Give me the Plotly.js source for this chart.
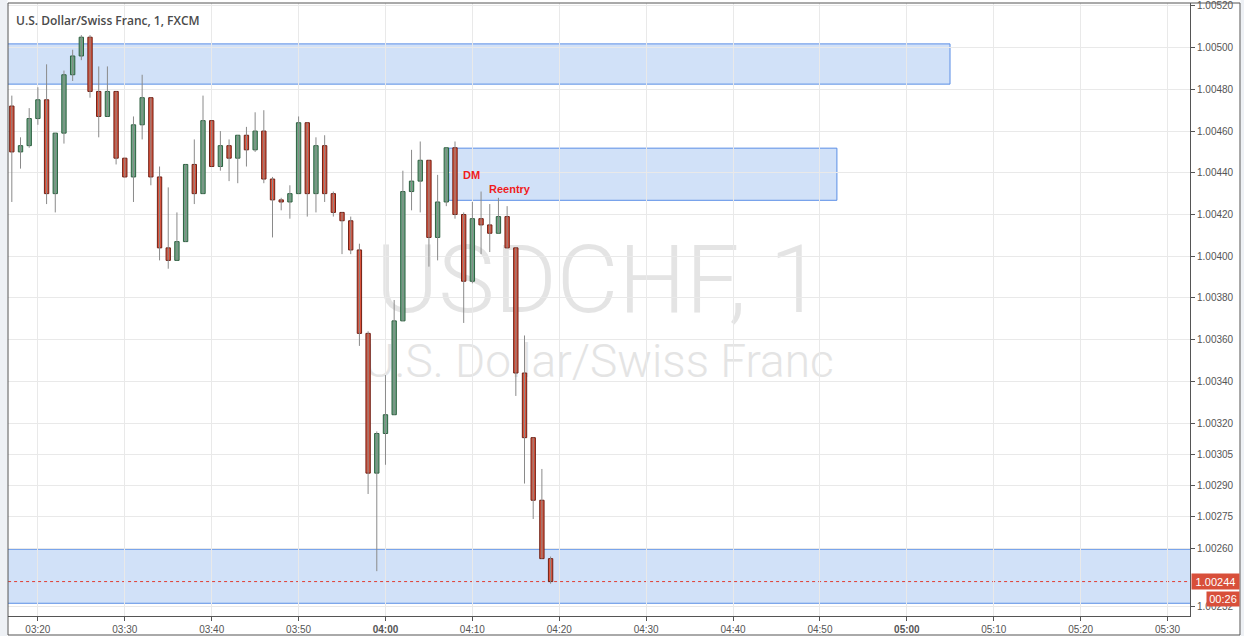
<!DOCTYPE html>
<html>
<head>
<meta charset="utf-8">
<script src="https://cdn.plot.ly/plotly-3.0.1.min.js"></script>
<style>html,body{margin:0;padding:0;background:#fff;}#chart{width:1244px;height:636px;}</style>
</head>
<body>
<div id="chart"></div>
<script>
// ---- data ----
var times = ['2017-01-01 03:17','2017-01-01 03:18','2017-01-01 03:19','2017-01-01 03:20','2017-01-01 03:21','2017-01-01 03:22','2017-01-01 03:23','2017-01-01 03:24','2017-01-01 03:25','2017-01-01 03:26',
'2017-01-01 03:27','2017-01-01 03:28','2017-01-01 03:29','2017-01-01 03:30','2017-01-01 03:31','2017-01-01 03:32','2017-01-01 03:33','2017-01-01 03:34','2017-01-01 03:35','2017-01-01 03:36',
'2017-01-01 03:37','2017-01-01 03:38','2017-01-01 03:39','2017-01-01 03:40','2017-01-01 03:41','2017-01-01 03:42','2017-01-01 03:43','2017-01-01 03:44','2017-01-01 03:45','2017-01-01 03:46',
'2017-01-01 03:47','2017-01-01 03:48','2017-01-01 03:49','2017-01-01 03:50','2017-01-01 03:51','2017-01-01 03:52','2017-01-01 03:53','2017-01-01 03:54','2017-01-01 03:55','2017-01-01 03:56',
'2017-01-01 03:57','2017-01-01 03:58','2017-01-01 03:59','2017-01-01 04:00','2017-01-01 04:01','2017-01-01 04:02','2017-01-01 04:03','2017-01-01 04:04','2017-01-01 04:05','2017-01-01 04:06',
'2017-01-01 04:07','2017-01-01 04:08','2017-01-01 04:09','2017-01-01 04:10','2017-01-01 04:11','2017-01-01 04:12','2017-01-01 04:13','2017-01-01 04:14','2017-01-01 04:15','2017-01-01 04:16',
'2017-01-01 04:17','2017-01-01 04:18','2017-01-01 04:19'];
var open  = [1.00472,1.00450,1.00453,1.00466,1.00475,1.00430,1.00459,1.00487,1.00496,1.00505,
1.00479,1.00467,1.00479,1.00447,1.00438,1.00463,1.00476,1.00438,1.00404,1.00398,
1.00407,1.00444,1.00430,1.00465,1.00443,1.00453,1.00447,1.00458,1.00451,1.00460,
1.00437,1.00427,1.00426,1.00430,1.00464,1.00430,1.00453,1.00430,1.00421,1.00417,
1.00403,1.00363,1.00296,1.00315,1.00324,1.00369,1.00431,1.00436,1.00446,1.00409,
1.00426,1.00452,1.00420,1.00388,1.00418,1.00415,1.00411,1.00419,1.00404,1.00344,
1.00313,1.00283,1.00255];
var high  = [1.00477,1.00457,1.00471,1.00481,1.00492,1.00459,1.00489,1.00499,1.00506,1.00506,
1.00491,1.00491,1.00479,1.00447,1.00467,1.00487,1.00476,1.00443,1.00433,1.00421,
1.00444,1.00456,1.00477,1.00465,1.00460,1.00456,1.00458,1.00462,1.00469,1.00470,
1.00438,1.00428,1.00434,1.00467,1.00464,1.00457,1.00458,1.00431,1.00421,1.00419,
1.00406,1.00364,1.00316,1.00343,1.00379,1.00441,1.00451,1.00455,1.00446,1.00439,
1.00452,1.00455,1.00421,1.00426,1.00431,1.00425,1.00428,1.00424,1.00404,1.00362,
1.00313,1.00298,1.00256];
var low   = [1.00426,1.00442,1.00452,1.00463,1.00425,1.00421,1.00454,1.00484,1.00494,1.00476,
1.00457,1.00467,1.00444,1.00438,1.00426,1.00456,1.00434,1.00398,1.00394,1.00398,
1.00407,1.00425,1.00430,1.00443,1.00441,1.00436,1.00435,1.00443,1.00450,1.00435,
1.00409,1.00422,1.00418,1.00430,1.00419,1.00421,1.00426,1.00419,1.00401,1.00401,
1.00357,1.00286,1.00249,1.00300,1.00324,1.00369,1.00422,1.00421,1.00395,1.00398,
1.00424,1.00418,1.00368,1.00387,1.00401,1.00402,1.00411,1.00404,1.00333,1.00291,
1.00274,1.00255,1.00243];
var close = [1.00450,1.00453,1.00466,1.00475,1.00430,1.00459,1.00487,1.00496,1.00505,1.00479,
1.00467,1.00479,1.00447,1.00438,1.00463,1.00476,1.00438,1.00404,1.00398,1.00407,
1.00444,1.00430,1.00465,1.00443,1.00453,1.00447,1.00458,1.00451,1.00460,1.00437,
1.00427,1.00426,1.00430,1.00464,1.00430,1.00453,1.00430,1.00421,1.00417,1.00403,
1.00363,1.00296,1.00315,1.00324,1.00369,1.00431,1.00436,1.00446,1.00409,1.00426,
1.00452,1.00420,1.00388,1.00418,1.00415,1.00411,1.00419,1.00404,1.00344,1.00313,
1.00283,1.00255,1.00244];

var xTickVals = ['2017-01-01 03:20','2017-01-01 03:30','2017-01-01 03:40','2017-01-01 03:50','2017-01-01 04:00','2017-01-01 04:10','2017-01-01 04:20',
'2017-01-01 04:30','2017-01-01 04:40','2017-01-01 04:50','2017-01-01 05:00','2017-01-01 05:10','2017-01-01 05:20','2017-01-01 05:30'];
var xTickText = ['03:20','03:30','03:40','03:50','<b>04:00</b>','04:10','04:20','04:30','04:40','04:50','<b>05:00</b>','05:10','05:20','05:30'];
var yTickVals = [1.00520,1.00500,1.00480,1.00460,1.00440,1.00420,1.00400,1.00380,1.00360,1.00340,1.00320,1.00305,1.00290,1.00275,1.00260,1.00232];
var yTickText = ['1.00520','1.00500','1.00480','1.00460','1.00440','1.00420','1.00400','1.00380','1.00360','1.00340','1.00320','1.00305','1.00290','1.00275','1.00260','1.00232'];

// zones [start, end, low, high]
var zoneTop    = ['2017-01-01 03:00','2017-01-01 05:04:58',1.004825,1.005018];
var zoneMid    = ['2017-01-01 04:07:18','2017-01-01 04:51:57',1.004268,1.004518];
var zoneBottom = ['2017-01-01 03:00','2017-01-01 06:00',1.002336,1.002595];
var lastPrice = 1.00244;
var lastPriceText = '1.00244';
var timerText = '00:26';
var titleText = 'U.S. Dollar/Swiss Franc, 1, FXCM';
var watermark1 = 'USDCHF, 1';
var watermark2 = 'U.S. Dollar/Swiss Franc';

// ---- build traces ----
var UP_FILL = '#6ba583', UP_LINE = '#2c5f3f', DN_FILL = '#da523b', DN_LINE = '#6f1f14';
var wx = [], wy = [];
var base = [], height = [], fill = [], outline = [];
for (var i = 0; i < times.length; i++) {
  wx.push(times[i], times[i], null);
  wy.push(low[i], high[i], null);
  var lo = Math.min(open[i], close[i]), hi = Math.max(open[i], close[i]);
  base.push(lo);
  height.push(Math.max(hi - lo, 0.000004));
  var up = close[i] >= open[i];
  fill.push(up ? UP_FILL : DN_FILL);
  outline.push(up ? UP_LINE : DN_LINE);
}
var wicks = {type:'scatter', mode:'lines', x:wx, y:wy, line:{color:'#8a8a8a', width:1}, hoverinfo:'skip', showlegend:false};
var bodies = {type:'bar', x:times, y:height, base:base, width:30000,
  marker:{color:fill, line:{color:outline, width:1}}, showlegend:false,
  customdata: open.map(function(o,i){return [o,high[i],low[i],close[i]];}),
  hovertemplate:'O %{customdata[0]}<br>H %{customdata[1]}<br>L %{customdata[2]}<br>C %{customdata[3]}<extra></extra>'};

var W = 1182, H = 613;
var ZFILL = '#d1e1f8', ZLINE = '#5a8ee6';
function zone(z){
  return {type:'rect', xref:'x', yref:'y', x0:z[0], x1:z[1], y0:z[2], y1:z[3],
    fillcolor:ZFILL, line:{color:ZLINE, width:1}, layer:'below'};
}
var shapes = [
  // watermark
  {type:'rect', xref:'paper', yref:'paper', x0:0.25, x1:0.75, y0:0.505, y1:0.617, line:{width:0}, fillcolor:'rgba(0,0,0,0)', layer:'below',
   label:{text:watermark1, textposition:'middle center', font:{family:'Roboto', size:95, color:'#e4e4e4', weight:300}}},
  {type:'rect', xref:'paper', yref:'paper', x0:0.25, x1:0.75, y0:0.39, y1:0.452, line:{width:0}, fillcolor:'rgba(0,0,0,0)', layer:'below',
   label:{text:watermark2, textposition:'middle center', font:{family:'Roboto', size:46, color:'#e4e4e4', weight:300}}},
  zone(zoneTop), zone(zoneMid), zone(zoneBottom),
  {type:'line', xref:'x', yref:'y', x0:'2017-01-01 03:00', x1:'2017-01-01 06:00', y0:lastPrice, y1:lastPrice,
   line:{color:'#e03c30', width:1, dash:'dot'}, layer:'below'},
  // side strips and frame
  {type:'rect', xref:'paper', yref:'paper', x0:-8/W, x1:-0.5/W, y0:-20/H, y1:1+3/H, fillcolor:'#eef1f5', line:{width:0}},
  {type:'rect', xref:'paper', yref:'paper', x0:1232.5/W, x1:1240/W, y0:-20/H, y1:1+3/H, fillcolor:'#eef1f5', line:{width:0}},
  {type:'rect', xref:'paper', yref:'paper', x0:0, x1:1232/W, y0:-19/H, y1:1, fillcolor:'rgba(0,0,0,0)', line:{color:'#555555', width:1}}
];

var annotations = [
  {xref:'x', yref:'y', x:'2017-01-01 04:09:57', y:1.004387, text:'<b>DM</b>', showarrow:false, font:{family:'Liberation Sans, Arial', size:11, color:'#f01c1c'}},
  {xref:'x', yref:'y', x:'2017-01-01 04:14:23', y:1.004323, text:'<b>Reentry</b>', showarrow:false, font:{family:'Liberation Sans, Arial', size:11, color:'#f01c1c'}},
  {xref:'paper', yref:'y', x:1183/W, y:lastPrice, xanchor:'left', yanchor:'middle', text:lastPriceText, showarrow:false,
   bgcolor:'#d84f3a', width:47, height:15, borderpad:0, font:{family:'Liberation Sans, Arial', size:11, color:'#ffffff'}},
  {xref:'paper', yref:'y', x:1198/W, y:1.002357, xanchor:'left', yanchor:'middle', text:timerText, showarrow:false,
   bgcolor:'#d84f3a', width:32, height:14, borderpad:0, font:{family:'Liberation Sans, Arial', size:11, color:'#ffffff'}}
];

var layout = {
  width:1244, height:636,
  margin:{l:8, r:54, t:3, b:20, pad:0},
  paper_bgcolor:'#ffffff', plot_bgcolor:'#ffffff',
  showlegend:false, bargap:0,
  title:{text:titleText, x:16/1244, xanchor:'left', xref:'container', y:1-21/636, yanchor:'middle', yref:'container',
    font:{family:'Open Sans', size:12, color:'#4a4a4a', weight:600}},
  xaxis:{type:'date', range:['2017-01-01 03:16:33.6','2017-01-01 05:32:35'],
    tickvals:xTickVals, ticktext:xTickText, showgrid:true, gridcolor:'#e9e9e9', gridwidth:1,
    showline:true, linecolor:'#555555', linewidth:1, ticks:'outside', ticklen:4, tickcolor:'#555555',
    tickfont:{family:'Liberation Sans, Arial', size:10, color:'#555555'}, zeroline:false, fixedrange:true},
  yaxis:{side:'right', range:[1.002275, 1.005214], tickvals:yTickVals, ticktext:yTickText,
    showgrid:true, gridcolor:'#e9e9e9', gridwidth:1, showline:true, linecolor:'#555555', linewidth:1,
    ticks:'outside', ticklen:4, tickcolor:'#555555', tickfont:{family:'Liberation Sans, Arial', size:10, color:'#555555'},
    zeroline:false, fixedrange:true},
  shapes:shapes, annotations:annotations
};

Plotly.newPlot('chart', [wicks, bodies], layout, {displayModeBar:false, staticPlot:true});
</script>
</body>
</html>
